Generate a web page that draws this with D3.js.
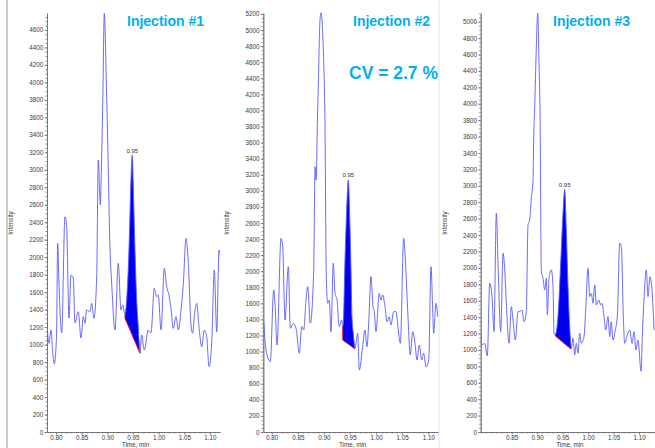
<!DOCTYPE html>
<html>
<head>
<meta charset="utf-8">
<script src="https://cdn.jsdelivr.net/npm/d3@7"></script>
<style>
  body { margin: 0; background: #fff; }
  svg { display: block; }
  text { font-family: "Liberation Sans", Arial, sans-serif; }
</style>
</head>
<body>
<svg width="655" height="448"></svg>
<script>
// Chromatogram traces (time in min, intensity)
var inj1Time = [0.7819, 0.7864, 0.7903, 0.7940, 0.7967, 0.8010, 0.8033, 0.8058, 0.8111, 0.8175, 0.8208, 0.8253, 0.8292, 0.8337, 0.8370, 0.8434, 0.8487, 0.8532, 0.8565, 0.8598, 0.8662, 0.8696, 0.8740, 0.8793, 0.8824, 0.8863, 0.8892, 0.8912, 0.8941, 0.8980, 0.9010, 0.9050, 0.9085, 0.9149, 0.9214, 0.9266, 0.9300, 0.9344, 0.9377, 0.9428, 0.9455, 0.9486, 0.9506, 0.9539, 0.9572, 0.9603, 0.9636, 0.9669, 0.9720, 0.9798, 0.9851, 0.9915, 0.9962, 0.9993, 1.0046, 1.0110, 1.0157, 1.0201, 1.0240, 1.0285, 1.0338, 1.0383, 1.0435, 1.0481, 1.0533, 1.0578, 1.0630, 1.0663, 1.0694, 1.0741, 1.0792, 1.0838, 1.0889, 1.0936, 1.0981, 1.1033, 1.1084, 1.1131, 1.1176, 1.1215];
var inj1Intensity = [1300, 1015, 1167, 880, 780, 1090, 2158, 1704, 1133, 2463, 2349, 1304, 1796, 1762, 1247, 1376, 1075, 1320, 1244, 1396, 1376, 1472, 1300, 1777, 3112, 2600, 3226, 3800, 4790, 4030, 3264, 2139, 1701, 1167, 1930, 1396, 1450, 1338, 1510, 2196, 2768, 3169, 2806, 2082, 1510, 1205, 900, 1110, 938, 1167, 1133, 1644, 1548, 1567, 1167, 1873, 1662, 1567, 1415, 1186, 1319, 1167, 1396, 1701, 2216, 1930, 1224, 1129, 1319, 1472, 1167, 976, 1167, 1090, 747, 1015, 1853, 1147, 2082, 1930];

var inj2Time = [0.7847, 0.7891, 0.7973, 0.8038, 0.8063, 0.8102, 0.8178, 0.8211, 0.8255, 0.8318, 0.8356, 0.8414, 0.8466, 0.8529, 0.8575, 0.8613, 0.8657, 0.8690, 0.8739, 0.8805, 0.8830, 0.8854, 0.8870, 0.8893, 0.8925, 0.8944, 0.8989, 0.9021, 0.9046, 0.9073, 0.9103, 0.9136, 0.9180, 0.9213, 0.9251, 0.9295, 0.9341, 0.9360, 0.9372, 0.9404, 0.9437, 0.9467, 0.9500, 0.9519, 0.9538, 0.9563, 0.9596, 0.9648, 0.9678, 0.9743, 0.9787, 0.9826, 0.9858, 0.9902, 0.9941, 0.9966, 0.9998, 1.0061, 1.0094, 1.0126, 1.0171, 1.0209, 1.0253, 1.0285, 1.0337, 1.0381, 1.0425, 1.0464, 1.0529, 1.0554, 1.0605, 1.0655, 1.0701, 1.0745, 1.0784, 1.0828, 1.0874, 1.0912, 1.0956, 1.1008, 1.1052, 1.1084, 1.1103, 1.1148, 1.1180];
var inj2Intensity = [1372, 1020, 875, 1767, 1601, 1082, 2410, 2305, 1393, 2056, 1290, 1352, 1290, 979, 1310, 1269, 1642, 1808, 1352, 2015, 3300, 3135, 3700, 4300, 5125, 5215, 4752, 3798, 1932, 1601, 1642, 1248, 2099, 1725, 1642, 1310, 1393, 1310, 1352, 2140, 2762, 3135, 2554, 2015, 1434, 1228, 1041, 1228, 771, 1061, 1269, 1061, 1352, 1932, 1559, 1497, 1248, 1725, 1642, 1704, 1559, 1372, 1434, 1331, 1497, 1497, 1269, 1103, 2410, 2223, 1518, 958, 1248, 1103, 896, 1082, 896, 979, 812, 896, 2056, 1518, 1228, 1601, 1434];

var inj3Time = [0.7891, 0.7917, 0.7970, 0.8021, 0.8068, 0.8113, 0.8152, 0.8198, 0.8231, 0.8284, 0.8329, 0.8363, 0.8394, 0.8447, 0.8492, 0.8526, 0.8571, 0.8624, 0.8657, 0.8702, 0.8742, 0.8787, 0.8820, 0.8853, 0.8885, 0.8918, 0.8935, 0.8948, 0.8977, 0.9011, 0.9036, 0.9058, 0.9081, 0.9115, 0.9148, 0.9180, 0.9200, 0.9233, 0.9278, 0.9311, 0.9331, 0.9356, 0.9409, 0.9462, 0.9507, 0.9541, 0.9572, 0.9606, 0.9639, 0.9670, 0.9704, 0.9737, 0.9769, 0.9802, 0.9835, 0.9867, 0.9920, 0.9953, 0.9998, 1.0032, 1.0063, 1.0097, 1.0130, 1.0161, 1.0209, 1.0248, 1.0273, 1.0313, 1.0346, 1.0391, 1.0425, 1.0456, 1.0489, 1.0535, 1.0574, 1.0621, 1.0653, 1.0692, 1.0719, 1.0770, 1.0817, 1.0863, 1.0902, 1.0941, 1.0980, 1.1040, 1.1065, 1.1112, 1.1143, 1.1177, 1.1216, 1.1255, 1.1295];
var inj3Intensity = [1183, 1061, 1081, 926, 1813, 1650, 1223, 2666, 2056, 1223, 2178, 1975, 1569, 1081, 1527, 1365, 1121, 1467, 1467, 1487, 1345, 1467, 2523, 2584, 2849, 3072, 3681, 3885, 4555, 5106, 4494, 3800, 1975, 1874, 1731, 1874, 1426, 1874, 1975, 1771, 1203, 1183, 1406, 2056, 2666, 2958, 2462, 1771, 1284, 1020, 1142, 939, 1081, 959, 1203, 1081, 1162, 1487, 1995, 1650, 1690, 1569, 1792, 1548, 1609, 1548, 1569, 1406, 1243, 1406, 1162, 1345, 1121, 1243, 1406, 2300, 2259, 1406, 1081, 1183, 1243, 1081, 1223, 999, 1121, 740, 1162, 1771, 1975, 1650, 1893, 1731, 1243];

// Integrated peak: [start time, end time, baseline at start, baseline at end]
var peak1 = [0.9344, 0.9636, 1300, 900];
var peak2 = [0.9360, 0.9596, 1144, 1032];
var peak3 = [0.9356, 0.9670, 1170, 1008];
var peakLabels = ['0.95', '0.95', '0.95'];

// Titles and axis ticks
var titles = ['Injection #1', 'Injection #2', 'Injection #3'];
var cvText = 'CV = 2.7 %';
var xTicks12 = [0.80, 0.85, 0.90, 0.95, 1.00, 1.05, 1.10];
var xTicks3 = [0.85, 0.90, 0.95, 1.00, 1.05, 1.10];
var yTickTop = [4600, 5200, 5000];

var plotBottom = 432, plotTop = 13;
var panels = [
  {time: inj1Time, value: inj1Intensity, peak: peak1, left: 47, right: 220, dom: [0.7825, 1.1195], yMax: 4794, xTicks: xTicks12, titleX: 127},
  {time: inj2Time, value: inj2Intensity, peak: peak2, left: 263.3, right: 438, dom: [0.7839, 1.1186], yMax: 5212, xTicks: xTicks12, titleX: 353},
  {time: inj3Time, value: inj3Intensity, peak: peak3, left: 480.7, right: 655, dom: [0.7891, 1.1314], yMax: 5106, xTicks: xTicks3, titleX: 553}
];

var svg = d3.select('svg');

// thin grey frame edges left from the screenshots
svg.append('line').attr('x1', 7).attr('x2', 7).attr('y1', 0).attr('y2', 448)
  .attr('stroke', '#9a9a9a').attr('stroke-width', 1);
svg.append('line').attr('x1', 439).attr('x2', 439).attr('y1', 0).attr('y2', 448)
  .attr('stroke', '#e2e2e2').attr('stroke-width', 1);

panels.forEach(function(p, i) {
  var x = d3.scaleLinear().domain(p.dom).range([p.left, p.right]);
  var y = d3.scaleLinear().domain([0, p.yMax]).range([plotBottom, plotTop]);
  var pts = p.time.map(function(t, j) { return {t: t, v: p.value[j]}; });
  var g = svg.append('g');

  svg.append('clipPath').attr('id', 'clip' + i)
    .append('rect').attr('x', p.left).attr('y', 0)
    .attr('width', p.right - p.left).attr('height', plotBottom);

  // minor ticks first, then the labelled axes on top
  var yMinor = d3.range(0, p.yMax, 50);
  g.append('g').attr('transform', 'translate(' + p.left + ',0)')
    .call(d3.axisLeft(y).tickValues(yMinor).tickSize(1.5).tickSizeOuter(0).tickFormat(''));
  var xMinor = d3.range(0.78, 1.14, 0.01).filter(function(d) { return d >= p.dom[0] && d <= p.dom[1]; });
  g.append('g').attr('transform', 'translate(0,' + plotBottom + ')')
    .call(d3.axisBottom(x).tickValues(xMinor).tickSize(1.5).tickSizeOuter(0).tickFormat(''));

  g.append('g').attr('transform', 'translate(' + p.left + ',0)')
    .call(d3.axisLeft(y).tickValues(d3.range(0, yTickTop[i] + 1, 200))
      .tickSize(2.5).tickSizeOuter(0).tickPadding(1.2).tickFormat(d3.format('d')));
  g.append('g').attr('transform', 'translate(0,' + plotBottom + ')')
    .call(d3.axisBottom(x).tickValues(p.xTicks)
      .tickSize(2.5).tickSizeOuter(0).tickPadding(1.5).tickFormat(d3.format('.2f')));

  g.selectAll('path, line').attr('stroke', '#707070').attr('stroke-width', 0.8);
  g.selectAll('text').attr('font-size', 6.3).attr('fill', '#3a3a3a')
    .attr('font-family', '"Liberation Sans", Arial, sans-serif');

  // axis titles
  g.append('text').text('Time, min')
    .attr('x', (p.left + p.right) / 2 + 2).attr('y', 447)
    .attr('text-anchor', 'middle').attr('font-size', 6.3).attr('fill', '#3a3a3a');
  g.append('text').text('Intensity')
    .attr('transform', 'translate(' + (p.left - 34) + ',223) rotate(-90)')
    .attr('text-anchor', 'middle').attr('font-size', 6.3).attr('fill', '#3a3a3a');

  // integrated peak area between trace and baseline
  var base = d3.scaleLinear().domain([p.peak[0], p.peak[1]]).range([p.peak[2], p.peak[3]]);
  var inPeak = pts.filter(function(d) { return d.t >= p.peak[0] - 1e-6 && d.t <= p.peak[1] + 1e-6; });
  var area = d3.area().curve(d3.curveMonotoneX)
    .x(function(d) { return x(d.t); })
    .y0(function(d) { return y(base(d.t)); })
    .y1(function(d) { return y(d.v); });
  g.append('path').datum(inPeak).attr('d', area).attr('fill', '#0000f0');

  // the trace, lightly smoothed like the instrument plot
  var line = d3.line().curve(d3.curveMonotoneX)
    .x(function(d) { return x(d.t); }).y(function(d) { return y(d.v); });
  g.append('path').datum(pts).attr('d', line)
    .attr('clip-path', 'url(#clip' + i + ')')
    .attr('fill', 'none').attr('stroke', '#5a5aff').attr('stroke-width', 0.9);

  // baseline of the integration, red
  var first = inPeak[0];
  g.append('path')
    .attr('d', 'M' + x(first.t) + ',' + y(first.v) + 'L' + x(p.peak[0]) + ',' + y(p.peak[2]) +
      'L' + x(p.peak[1]) + ',' + y(p.peak[3]))
    .attr('fill', 'none').attr('stroke', '#ff1010').attr('stroke-width', 0.9);

  // apex label
  var apex = inPeak.reduce(function(a, b) { return b.v > a.v ? b : a; });
  g.append('text').text(peakLabels[i])
    .attr('x', x(apex.t)).attr('y', y(apex.v) - 2.5)
    .attr('text-anchor', 'middle').attr('font-size', 6).attr('fill', '#333');

  // panel title
  svg.append('text').text(titles[i])
    .attr('x', p.titleX).attr('y', 26)
    .attr('font-size', 14).attr('font-weight', 'bold').attr('fill', '#00b0f0');
});

svg.append('text').text(cvText)
  .attr('x', 349).attr('y', 79)
  .attr('font-size', 17.5).attr('font-weight', 'bold').attr('fill', '#00b0f0');
</script>
</body>
</html>
